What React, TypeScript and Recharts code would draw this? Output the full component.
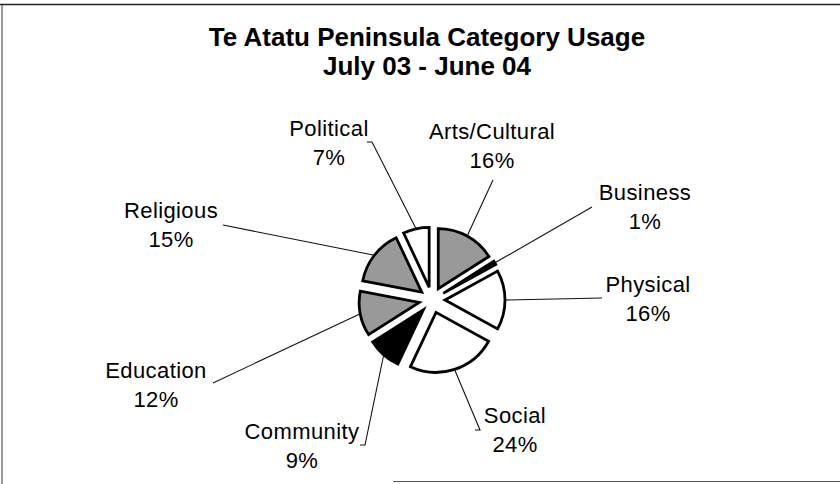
import React from 'react';
import { PieChart, Pie, Sector } from 'recharts';

// ---- data ----
const categories = ['Arts/Cultural', 'Business', 'Physical', 'Social', 'Community', 'Education', 'Religious', 'Political'];
const usagePercent = [16, 1, 16, 24, 9, 12, 15, 7];
const titleLines = ['Te Atatu Peninsula Category Usage', 'July 03 - June 04'];

// ---- styling / layout (not data) ----
const sliceFills = ['#999999', '#1a1a1a', '#ffffff', '#ffffff', '#000000', '#999999', '#999999', '#ffffff'];
// label text centre (tx, ty = first line centre), leader anchor (ax, ay), small tick length
const labelLayout = [
  { tx: 492, ty: 131, ax: 493, ay: 180, tick: 0 },
  { tx: 645, ty: 192, ax: 592, ay: 207, tick: 0 },
  { tx: 648, ty: 284, ax: 602, ay: 298, tick: 0 },
  { tx: 515, ty: 415, ax: 480, ay: 430, tick: -5 },
  { tx: 302, ty: 431, ax: 365, ay: 445, tick: -5 },
  { tx: 156, ty: 370, ax: 213, ay: 383, tick: 0 },
  { tx: 171, ty: 210, ax: 223, ay: 225, tick: 0 },
  { tx: 329, ty: 128, ax: 372, ay: 142, tick: -5 },
];

const CX = 427;
const CY = 295;
const RADIUS = 60;
const EXPLODE = 13;
const LINE_GAP = 29;
const FONT = '"Liberation Sans", Arial, sans-serif';
const LABEL_SIZE = 22;

const chartData = categories.map((name, i) => ({ name, value: usagePercent[i] }));

const RAD = Math.PI / 180;

const renderSlice = (props: any) => {
  const { cx, cy, outerRadius, startAngle, endAngle, midAngle, index, percent } = props;
  const dx = Math.cos(-midAngle * RAD);
  const dy = Math.sin(-midAngle * RAD);
  const ox = cx + EXPLODE * dx;
  const oy = cy + EXPLODE * dy;
  const ex = ox + outerRadius * dx;
  const ey = oy + outerRadius * dy;
  const lay = labelLayout[index];
  const pts = lay.tick
    ? `${ex},${ey} ${lay.ax},${lay.ay} ${lay.ax + lay.tick},${lay.ay}`
    : `${ex},${ey} ${lay.ax},${lay.ay}`;
  return (
    <g key={`slice-${index}`}>
      <Sector
        cx={ox}
        cy={oy}
        innerRadius={0}
        outerRadius={outerRadius}
        startAngle={startAngle}
        endAngle={endAngle}
        fill={sliceFills[index]}
        stroke="#000"
        strokeWidth={2.8}
        strokeLinejoin="miter"
      />
      <polyline points={pts} fill="none" stroke="#111" strokeWidth={1.1} />
      <text
        x={lay.tx}
        y={lay.ty}
        textAnchor="middle"
        dominantBaseline="central"
        fontFamily={FONT}
        fontSize={LABEL_SIZE}
        letterSpacing={0.4}
        fill="#000"
      >
        {categories[index]}
      </text>
      <text
        x={lay.tx}
        y={lay.ty + LINE_GAP}
        textAnchor="middle"
        dominantBaseline="central"
        fontFamily={FONT}
        fontSize={LABEL_SIZE}
        letterSpacing={0.4}
        fill="#000"
      >
        {`${Math.round(percent * 100)}%`}
      </text>
    </g>
  );
};

export default function App() {
  return (
    <div style={{ position: 'absolute', left: 0, top: 0, width: 840, height: 484, background: '#fff' }}>
      <svg width={840} height={484} style={{ position: 'absolute', left: 0, top: 0 }}>
        <line x1={0} y1={4.5} x2={840} y2={4.5} stroke="#222" strokeWidth={1.5} />
        <line x1={2} y1={4} x2={2} y2={484} stroke="#333" strokeWidth={1} />
        <line x1={393} y1={481.5} x2={840} y2={481.5} stroke="#555" strokeWidth={1} />
        <text x={427} y={46} textAnchor="middle" fontFamily={FONT} fontWeight="bold" fontSize={26} fill="#000">
          {titleLines[0]}
        </text>
        <text x={427} y={75} textAnchor="middle" fontFamily={FONT} fontWeight="bold" fontSize={26} fill="#000">
          {titleLines[1]}
        </text>
      </svg>
      <div style={{ position: 'absolute', left: 0, top: 0 }}>
        <PieChart width={840} height={484}>
          <Pie
            data={chartData}
            dataKey="value"
            nameKey="name"
            cx={CX}
            cy={CY}
            outerRadius={RADIUS}
            startAngle={90}
            endAngle={-270}
            fill="none"
            stroke="none"
            labelLine={false}
            label={renderSlice}
            isAnimationActive={false}
          />
        </PieChart>
      </div>
    </div>
  );
}
